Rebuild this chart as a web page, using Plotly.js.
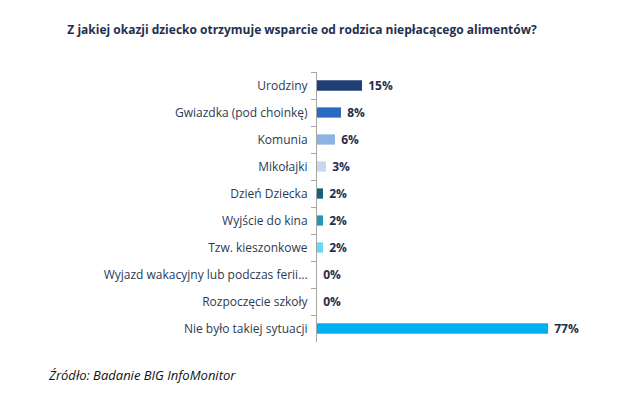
<!DOCTYPE html>
<html>
<head>
<meta charset="utf-8">
<script src="https://cdn.plot.ly/plotly-3.0.1.min.js"></script>
<style>
  html, body { margin: 0; padding: 0; background: #fff; }
  #chart { width: 640px; height: 407px; }
</style>
</head>
<body>
<div id="chart"></div>
<script>
// dane
var categories = [
  'Urodziny',
  'Gwiazdka (pod choinkę)',
  'Komunia',
  'Mikołajki',
  'Dzień Dziecka',
  'Wyjście do kina',
  'Tzw. kieszonkowe',
  'Wyjazd wakacyjny lub podczas ferii...',
  'Rozpoczęcie szkoły',
  'Nie było takiej sytuacji'
];
var values = [15, 8, 6, 3, 2, 2, 2, 0, 0, 77];
var barColors = ['#1f3f78', '#2a6bc1', '#8db3e2', '#c6d9f1', '#17627a',
                 '#2497b9', '#6ad8f3', '#00b0f0', '#00b0f0', '#00b0f0'];

var trace = {
  type: 'bar',
  orientation: 'h',
  y: categories,
  x: values,
  marker: { color: barColors },
  // nbsp na początku odsuwa etykietę od słupka jak w oryginale
  text: values.map(function (v) { return '\u00a0<b>' + v + '%</b>'; }),
  textposition: 'outside',
  constraintext: 'none',
  cliponaxis: false,
  textfont: { family: 'Open Sans, sans-serif', size: 12, color: '#1f2d4d' },
  hoverinfo: 'none'
};

var layout = {
  width: 640,
  height: 407,
  margin: { l: 317, r: 40, t: 72, b: 65 },
  paper_bgcolor: '#fff',
  plot_bgcolor: '#fff',
  showlegend: false,
  bargap: 0.62,
  title: {
    text: '<b>Z jakiej okazji dziecko otrzymuje wsparcie od rodzica niepłacącego alimentów?</b>',
    font: { family: 'Open Sans, sans-serif', size: 12, color: '#1f3050' },
    x: 302 / 640, xanchor: 'center', y: 1 - 30 / 407, yanchor: 'middle'
  },
  xaxis: {
    range: [0, 94.3],
    visible: false,
    fixedrange: true
  },
  yaxis: {
    autorange: 'reversed',
    showline: true,
    linecolor: '#a6a6a6',
    linewidth: 1,
    ticks: 'outside',
    tickson: 'boundaries',
    ticklen: 5,
    tickcolor: '#a6a6a6',
    ticklabelstandoff: 6,
    showgrid: false,
    zeroline: false,
    tickfont: { family: 'Open Sans, sans-serif', size: 12, color: '#2b3a55' },
    fixedrange: true
  },
  annotations: [{
    text: '<i>Źródło: Badanie BIG InfoMonitor</i>',
    xref: 'paper', yref: 'paper',
    x: -(317 - 46) / 283, xanchor: 'left',
    y: -(375 - 342) / 270, yanchor: 'middle',
    showarrow: false,
    font: { family: 'Open Sans, sans-serif', size: 13, color: '#111' }
  }]
};

Plotly.newPlot('chart', [trace], layout, { displayModeBar: false, staticPlot: true });
</script>
</body>
</html>
